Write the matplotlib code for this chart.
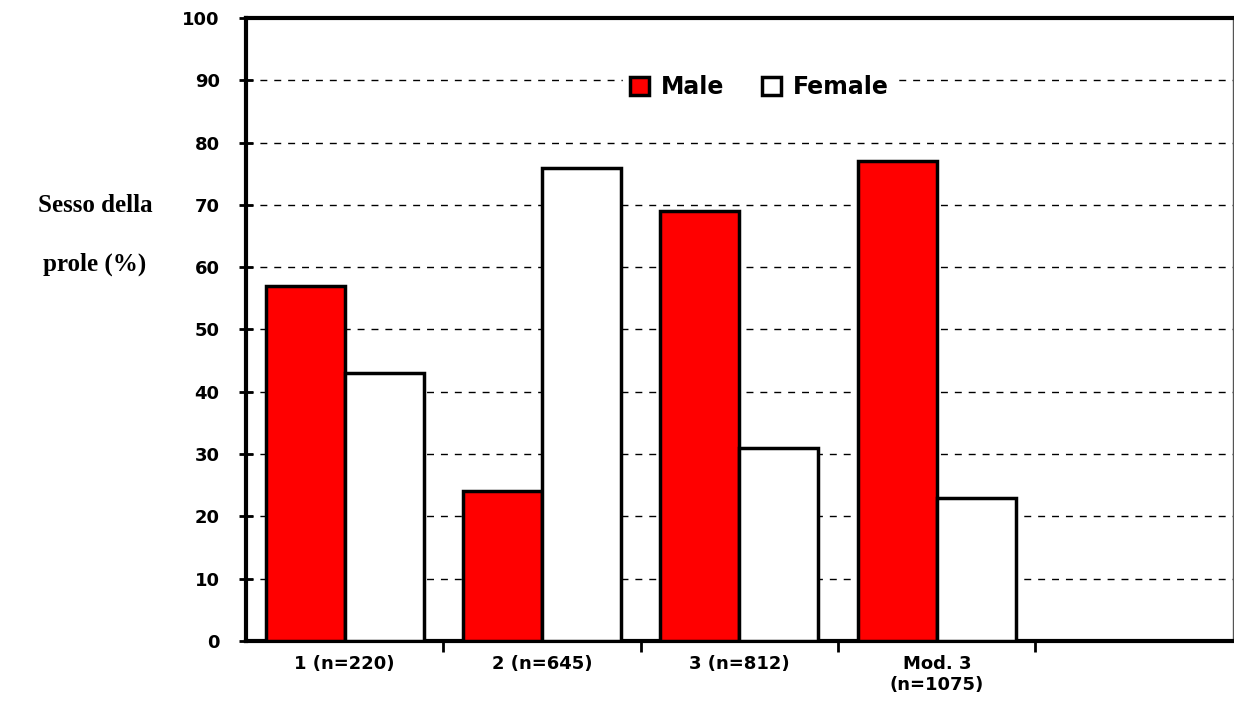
import matplotlib
matplotlib.use("Agg")
from matplotlib import pyplot as plt
import numpy as np

# Gruppi e percentuali della prole
gruppi = ["1 (n=220)", "2 (n=645)", "3 (n=812)", "Mod. 3\n(n=1075)"]
maschi = [57, 24, 69, 77]
femmine = [43, 76, 31, 23]
yticks = [0, 10, 20, 30, 40, 50, 60, 70, 80, 90, 100]

fig = plt.figure(figsize=(12.34, 7.07), dpi=100)
ax = fig.add_axes([0.1994, 0.0934, 0.7996, 0.8811])

x = np.arange(len(gruppi))
w = 0.4
ax.bar(x - w / 2, maschi, w, color="#ff0000", edgecolor="black", linewidth=2.5,
       label="Male", zorder=3)
ax.bar(x + w / 2, femmine, w, color="white", edgecolor="black", linewidth=2.5,
       label="Female", zorder=3)

# Cinque posizioni sull'asse, l'ultima vuota
ax.set_xlim(-0.5, 4.5)
ax.set_ylim(0, 100)

ax.set_yticks(yticks)
ax.set_yticklabels([str(v) for v in yticks], fontsize=13, fontweight="heavy")
ax.tick_params(axis="y", direction="inout", length=10, width=2, pad=14)

ax.set_xticks(x)
ax.set_xticklabels(gruppi, fontsize=13, fontweight="heavy", va="top")
ax.tick_params(axis="x", which="major", length=0, pad=10)
ax.set_xticks(np.arange(0.5, 4.0, 1.0), minor=True)
ax.tick_params(axis="x", which="minor", direction="out", length=8, width=2)

for v in yticks[1:-1]:
    ax.axhline(v, color="black", linewidth=1, linestyle=(0, (5, 5)), zorder=1)

for side in ["left", "bottom", "top"]:
    ax.spines[side].set_linewidth(3)
ax.spines["right"].set_linewidth(1)
ax.spines["right"].set_color("#555555")

leg = ax.legend(loc="center", bbox_to_anchor=(0.52, 0.889), ncol=2, frameon=True,
                fancybox=False, edgecolor="white", framealpha=1,
                prop={"weight": "heavy", "size": 17}, handlelength=0.8,
                handleheight=0.8, handletextpad=0.5, columnspacing=1.6,
                borderpad=0.3)
leg.set_zorder(5)

fig.text(0.077, 0.668, "Sesso della\nprole (%)", ha="center", va="center",
         fontsize=18, fontweight="bold", family="Liberation Serif", linespacing=3.0)

plt.savefig("out.png", dpi=100)
